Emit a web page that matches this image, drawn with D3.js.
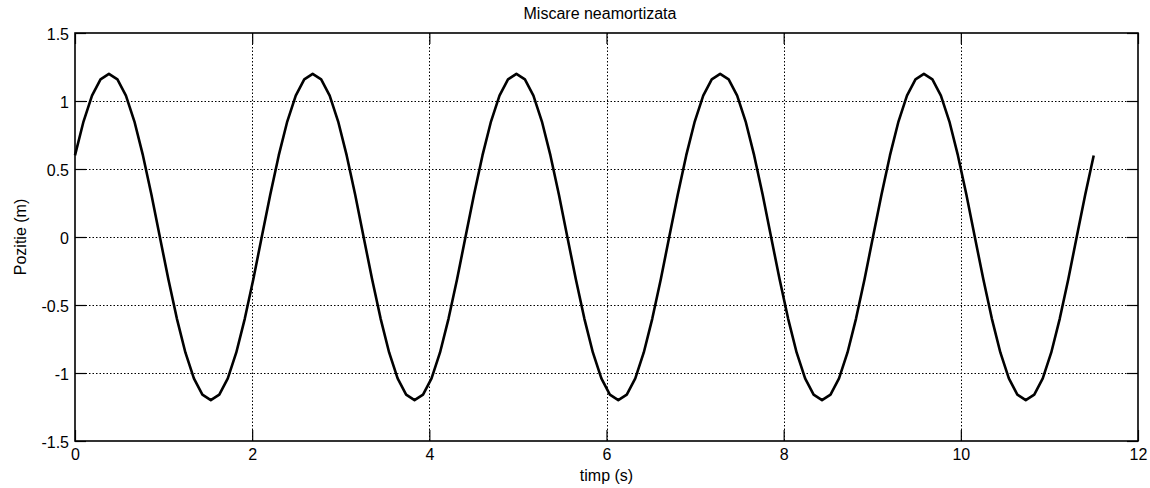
<!DOCTYPE html>
<html>
<head>
<meta charset="utf-8">
<script src="https://cdnjs.cloudflare.com/ajax/libs/d3/7.8.5/d3.min.js"></script>
<style>
  body { margin: 0; background: #fff; }
  text { font-family: "Liberation Sans", Arial, sans-serif; fill: #000; }
</style>
</head>
<body>
<script>
// time samples (s)
var timp = [0,
    0.096, 0.192, 0.288, 0.383, 0.479, 0.575, 0.671, 0.767, 0.863, 0.958, 1.054, 1.150,
    1.246, 1.342, 1.438, 1.533, 1.629, 1.725, 1.821, 1.917, 2.013, 2.108, 2.204, 2.300,
    2.396, 2.492, 2.588, 2.683, 2.779, 2.875, 2.971, 3.067, 3.163, 3.258, 3.354, 3.450,
    3.546, 3.642, 3.738, 3.833, 3.929, 4.025, 4.121, 4.217, 4.313, 4.408, 4.504, 4.600,
    4.696, 4.792, 4.888, 4.983, 5.079, 5.175, 5.271, 5.367, 5.463, 5.558, 5.654, 5.750,
    5.846, 5.942, 6.038, 6.133, 6.229, 6.325, 6.421, 6.517, 6.613, 6.708, 6.804, 6.900,
    6.996, 7.092, 7.188, 7.283, 7.379, 7.475, 7.571, 7.667, 7.763, 7.858, 7.954, 8.050,
    8.146, 8.242, 8.338, 8.433, 8.529, 8.625, 8.721, 8.817, 8.913, 9.008, 9.104, 9.200,
    9.296, 9.392, 9.488, 9.583, 9.679, 9.775, 9.871, 9.967, 10.063, 10.158, 10.254, 10.350,
    10.446, 10.542, 10.638, 10.733, 10.829, 10.925, 11.021, 11.117, 11.213, 11.308, 11.404, 11.500];

// position (m)
var pozitie = [0.600,
    0.849, 1.039, 1.159, 1.200, 1.159, 1.039, 0.849, 0.600, 0.311, 0, -0.311, -0.600,
    -0.849, -1.039, -1.159, -1.200, -1.159, -1.039, -0.849, -0.600, -0.311, 0, 0.311, 0.600,
    0.849, 1.039, 1.159, 1.200, 1.159, 1.039, 0.849, 0.600, 0.311, 0, -0.311, -0.600,
    -0.849, -1.039, -1.159, -1.200, -1.159, -1.039, -0.849, -0.600, -0.311, 0, 0.311, 0.600,
    0.849, 1.039, 1.159, 1.200, 1.159, 1.039, 0.849, 0.600, 0.311, 0, -0.311, -0.600,
    -0.849, -1.039, -1.159, -1.200, -1.159, -1.039, -0.849, -0.600, -0.311, 0, 0.311, 0.600,
    0.849, 1.039, 1.159, 1.200, 1.159, 1.039, 0.849, 0.600, 0.311, 0, -0.311, -0.600,
    -0.849, -1.039, -1.159, -1.200, -1.159, -1.039, -0.849, -0.600, -0.311, 0, 0.311, 0.600,
    0.849, 1.039, 1.159, 1.200, 1.159, 1.039, 0.849, 0.600, 0.311, 0, -0.311, -0.600,
    -0.849, -1.039, -1.159, -1.200, -1.159, -1.039, -0.849, -0.600, -0.311, 0, 0.311, 0.600];

var xTicks = [0, 2, 4, 6, 8, 10, 12];
var yTicks = [-1.5, -1, -0.5, 0, 0.5, 1, 1.5];
var yTickLabels = ["-1.5", "-1", "-0.5", "0", "0.5", "1", "1.5"];

var width = 1150, height = 488;
var margin = {top: 33, right: 12, bottom: 47, left: 75};
var plotW = width - margin.left - margin.right;
var plotH = height - margin.top - margin.bottom;
var tickLen = 11;

var svg = d3.select("body").append("svg")
    .attr("width", width)
    .attr("height", height);

var g = svg.append("g")
    .attr("transform", "translate(" + margin.left + "," + margin.top + ")");

var x = d3.scaleLinear().domain([0, 12]).range([0, plotW]);
var y = d3.scaleLinear().domain([-1.5, 1.5]).range([plotH, 0]);

// dotted grid
g.selectAll("line.gx")
    .data(xTicks.slice(1, -1))
    .enter().append("line")
    .attr("class", "gx")
    .attr("x1", function(d) { return Math.round(x(d)) + 0.5; })
    .attr("x2", function(d) { return Math.round(x(d)) + 0.5; })
    .attr("y1", 0).attr("y2", plotH)
    .attr("stroke", "#000").attr("stroke-width", 1)
    .attr("stroke-dasharray", "1.5,2");

g.selectAll("line.gy")
    .data(yTicks.slice(1, -1))
    .enter().append("line")
    .attr("class", "gy")
    .attr("x1", 0).attr("x2", plotW)
    .attr("y1", function(d) { return Math.round(y(d)) + 0.5; })
    .attr("y2", function(d) { return Math.round(y(d)) + 0.5; })
    .attr("stroke", "#000").attr("stroke-width", 1)
    .attr("stroke-dasharray", "1.5,2");

// ticks on all four sides, pointing inward
var axStyle = function(sel) {
    sel.select(".domain").remove();
    sel.selectAll(".tick line").attr("stroke", "#000").attr("stroke-width", 1.2);
    sel.selectAll("text").style("font-size", "16px").attr("fill", "#000");
};

g.append("g")
    .attr("transform", "translate(0," + plotH + ")")
    .call(d3.axisBottom(x).tickValues(xTicks).tickSize(-tickLen).tickPadding(8).tickFormat(d3.format("d")))
    .call(axStyle)
    .selectAll("text").attr("dy", "0.71em");

g.append("g")
    .call(d3.axisTop(x).tickValues(xTicks).tickSize(-tickLen).tickFormat(""))
    .call(axStyle);

g.append("g")
    .call(d3.axisLeft(y).tickValues(yTicks).tickSize(-tickLen).tickPadding(6)
        .tickFormat(function(d, i) { return yTickLabels[i]; }))
    .call(axStyle)
    .selectAll("text").attr("dy", "0.42em");

g.append("g")
    .attr("transform", "translate(" + plotW + ",0)")
    .call(d3.axisRight(y).tickValues(yTicks).tickSize(-tickLen).tickFormat(""))
    .call(axStyle);

// box
g.append("rect")
    .attr("width", plotW).attr("height", plotH)
    .attr("fill", "none").attr("stroke", "#000").attr("stroke-width", 1.6);

// curve
var line = d3.line()
    .x(function(d, i) { return x(timp[i]); })
    .y(function(d) { return y(d); });

g.append("path")
    .datum(pozitie)
    .attr("d", line)
    .attr("fill", "none")
    .attr("stroke", "#000")
    .attr("stroke-width", 2.6)
    .attr("stroke-linejoin", "round");

// labels
svg.append("text")
    .attr("x", 600)
    .attr("y", 19)
    .attr("text-anchor", "middle")
    .style("font-size", "16px")
    .text("Miscare neamortizata");

svg.append("text")
    .attr("x", margin.left + plotW / 2)
    .attr("y", 481)
    .attr("text-anchor", "middle")
    .style("font-size", "16px")
    .text("timp (s)");

svg.append("text")
    .attr("transform", "translate(26," + (margin.top + plotH / 2) + ") rotate(-90)")
    .attr("text-anchor", "middle")
    .style("font-size", "16px")
    .text("Pozitie (m)");
</script>
</body>
</html>
